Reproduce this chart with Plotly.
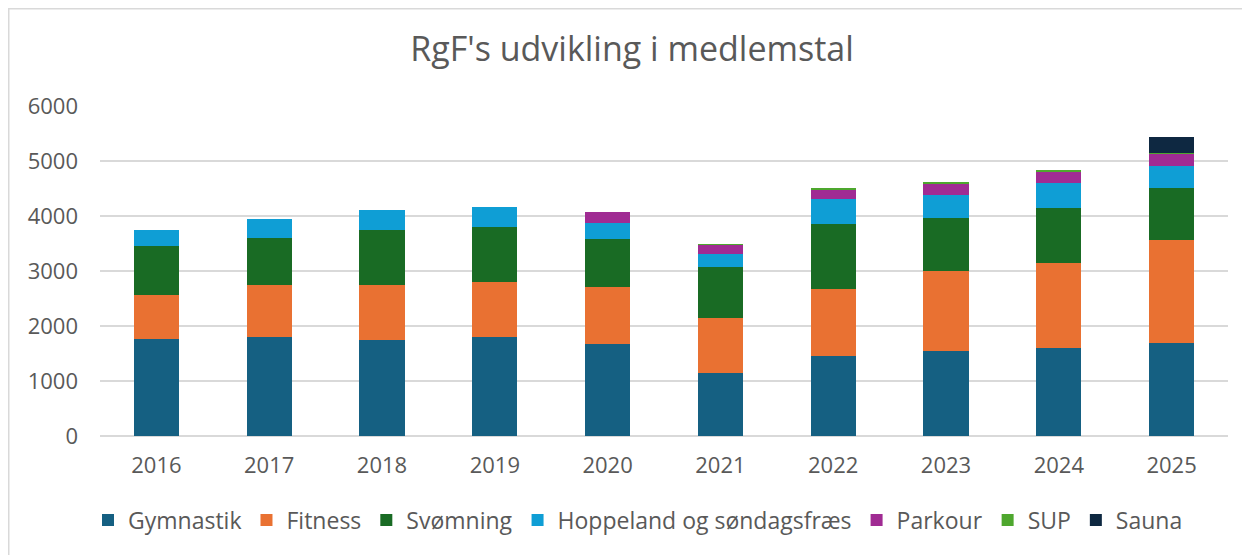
import plotly.graph_objects as go

years = ["2016", "2017", "2018", "2019", "2020", "2021", "2022", "2023", "2024", "2025"]
gymnastik = [1765, 1800, 1750, 1805, 1675, 1145, 1455, 1545, 1600, 1695]
fitness = [795, 950, 990, 995, 1035, 995, 1225, 1450, 1550, 1860]
svomning = [890, 850, 1005, 1000, 875, 935, 1175, 960, 995, 955]
hoppeland = [295, 350, 365, 370, 295, 235, 450, 435, 460, 400]
parkour = [0, 0, 0, 0, 195, 165, 175, 195, 200, 220]
sup = [0, 0, 0, 0, 0, 12, 25, 30, 18, 18]
sauna = [0, 0, 0, 0, 0, 0, 0, 0, 0, 290]

series = [
    ("Gymnastik", gymnastik, "#156082"),
    ("Fitness", fitness, "#E97132"),
    ("Svømning", svomning, "#196B24"),
    ("Hoppeland og søndagsfræs", hoppeland, "#0F9ED5"),
    ("Parkour", parkour, "#A02B93"),
    ("SUP", sup, "#4EA72E"),
    ("Sauna", sauna, "#0E2841"),
]

fig = go.Figure()
for name, vals, col in series:
    fig.add_trace(go.Bar(x=years, y=vals, name=name, marker=dict(color=col, line=dict(width=0))))

OFF = 8  # page body margin offset
W, H = 1250, 555
L_s, R_s, T_s, B_s = 100, 1228, 106, 436
L = L_s - OFF
T = T_s - OFF
R = W - (R_s - OFF)
B = H - (B_s - OFF)
pw, ph = W - L - R, H - T - B

def px_x(x):
    return (x - OFF - L) / pw

def px_y(y):
    return (H - B - (y - OFF)) / ph

FONT = "Open Sans, Roboto, Arial, sans-serif"

fig.update_layout(
    width=W, height=H,
    barmode="stack", bargap=0.6,
    margin=dict(l=L, r=R, t=T, b=B, autoexpand=False),
    paper_bgcolor="white", plot_bgcolor="white",
    font=dict(family=FONT, color="#595959", size=22),
    title=dict(text="RgF's udvikling i medlemstal", x=px_x(632), xanchor="center",
               y=1 - (49 - OFF) / H, yanchor="middle", xref="paper",
               font=dict(size=34, color="#595959")),
    xaxis=dict(showgrid=False, showline=False, ticks="", tickfont=dict(size=22),
               ticklabelstandoff=14),
    yaxis=dict(range=[0, 6000], tickvals=[0, 1000, 2000, 3000, 4000, 5000, 6000],
               showgrid=True, gridcolor="#D9D9D9", gridwidth=1.5, zeroline=True,
               zerolinecolor="#D9D9D9", zerolinewidth=1.5, showline=False, ticks="",
               tickfont=dict(size=22), ticklabelstandoff=21),
    legend=dict(orientation="h", x=px_x(638), xanchor="center", y=px_y(520), yanchor="middle",
                font=dict(size=23), traceorder="normal", itemwidth=30),
    showlegend=True,
    shapes=[dict(type="rect", xref="paper", yref="paper",
                 x0=px_x(8.75), x1=px_x(1270), y0=px_y(575), y1=px_y(8.75),
                 line=dict(color="#D9D9D9", width=1.5), fillcolor="rgba(0,0,0,0)", layer="below")],
)

fig.write_html("out.html")
